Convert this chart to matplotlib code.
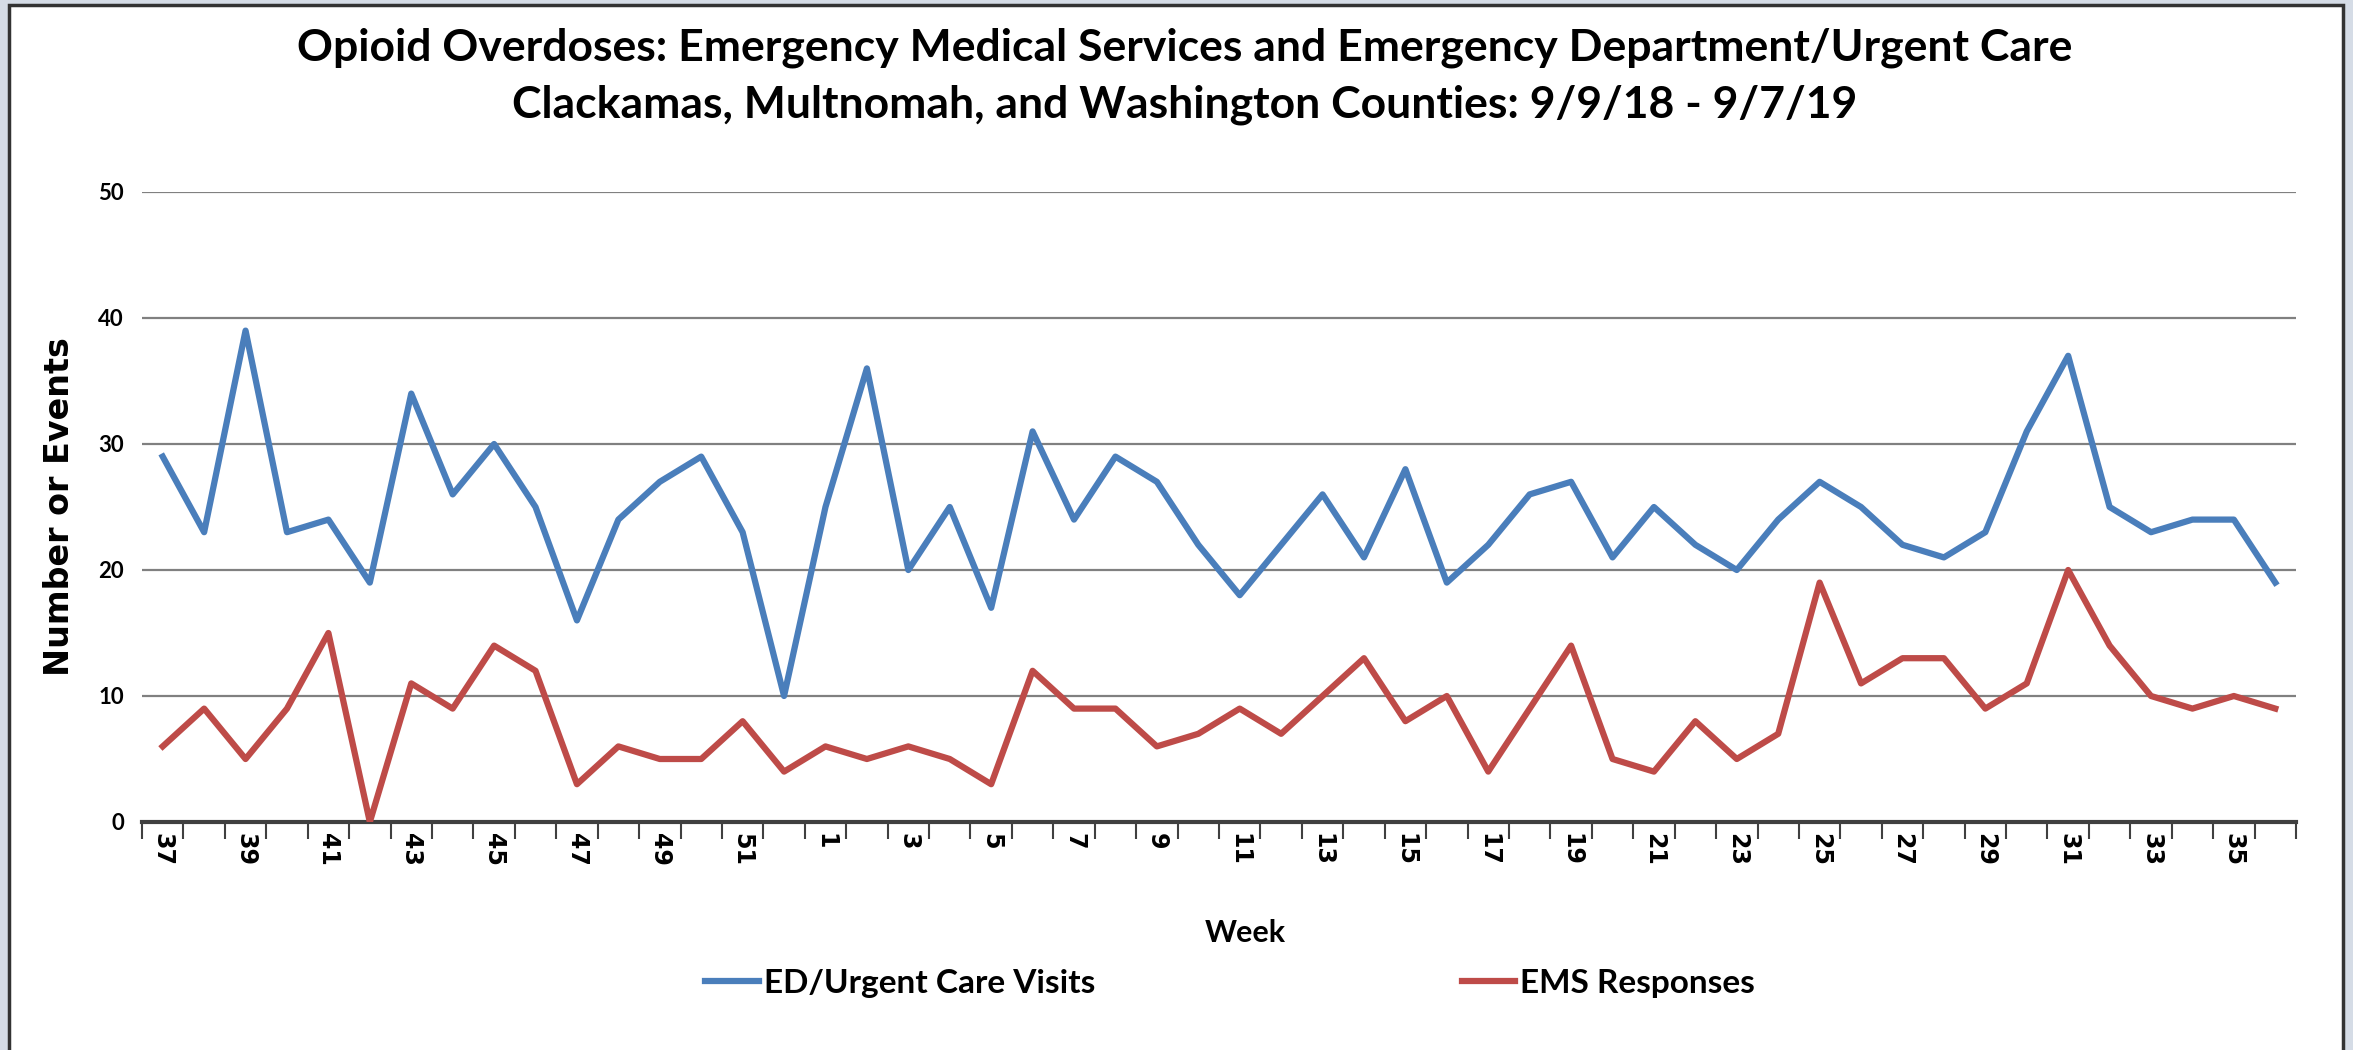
import numpy as np
import matplotlib.pyplot as plt
from matplotlib.patches import Rectangle

# Week numbers (9/9/18 - 9/7/19)
weeks = list(range(37, 53)) + list(range(1, 37))
ed_visits = [29, 23, 39, 23, 24, 19, 34, 26, 30, 25, 16, 24, 27, 29, 23, 10,
             25, 36, 20, 25, 17, 31, 24, 29, 27, 22, 18, 22, 26, 21, 28, 19,
             22, 26, 27, 21, 25, 22, 20, 24, 27, 25, 22, 21, 23, 31, 37, 25,
             23, 24, 24, 19]
ems_responses = [6, 9, 5, 9, 15, 0, 11, 9, 14, 12, 3, 6, 5, 5, 8, 4,
                 6, 5, 6, 5, 3, 12, 9, 9, 6, 7, 9, 7, 10, 13, 8, 10,
                 4, 9, 14, 5, 4, 8, 5, 7, 19, 11, 13, 13, 9, 11, 20, 14,
                 10, 9, 10, 9]
y_ticks = [0, 10, 20, 30, 40, 50]

W, H = 2353, 1050
fig = plt.figure(figsize=(W / 100, H / 100), dpi=100, facecolor='#D5DCE6')
# white chart panel with dark frame
fig.patches.append(Rectangle((9 / W, -0.01), (2343 - 9) / W, 1.01 - 5 / H,
                             transform=fig.transFigure, facecolor='white',
                             edgecolor='#333333', linewidth=2.5, zorder=-5))

ax = fig.add_axes([142 / W, 1 - 822 / H, (2296 - 142) / W, (822 - 192) / H])
ax.set_facecolor('none')
ax.set_zorder(2)

x = np.arange(len(weeks))
l1, = ax.plot(x, ed_visits, color='#4A7EBB', linewidth=4.5,
              label='ED/Urgent Care Visits', zorder=3)
l2, = ax.plot(x, ems_responses, color='#BE4B48', linewidth=4.5,
              label='EMS Responses', zorder=3)

ax.set_xlim(-0.5, len(weeks) - 0.5)
ax.set_ylim(0, 50)
ax.set_yticks(y_ticks)
ax.set_yticklabels([str(v) for v in y_ticks], fontfamily='Lato', fontweight='bold',
                   fontsize=16)
ax.tick_params(axis='y', length=0, pad=13)
for v in y_ticks[1:]:
    ax.axhline(v, color='#808080', linewidth=1.6, zorder=1)

ax.set_xticks(x[::2])
ax.set_xticklabels([str(w) for w in weeks[::2]], rotation=-90, fontfamily='DejaVu Sans',
                   fontweight='bold', fontsize=17)
ax.set_xticks(np.arange(-0.5, len(weeks), 1), minor=True)
ax.tick_params(axis='x', which='major', length=0, pad=8)
ax.tick_params(axis='x', which='minor', length=12, width=1.5, color='#404040',
               direction='out')

for s in ['top', 'right', 'left']:
    ax.spines[s].set_visible(False)
ax.spines['bottom'].set_color('#404040')
ax.spines['bottom'].set_linewidth(3)

ax.set_ylabel('Number or Events', fontfamily='DejaVu Sans', fontweight='bold',
              fontsize=24, labelpad=16)

fig.text(1245 / W, 1 - 933 / H, 'Week', ha='center', va='center',
         fontfamily='Lato', fontweight='bold', fontsize=22)

fig.text(1185 / W, 1 - 48 / H,
         'Opioid Overdoses: Emergency Medical Services and Emergency Department/Urgent Care',
         ha='center', va='center', fontfamily='Lato', fontweight='bold', fontsize=32)
fig.text(1185 / W, 1 - 105 / H,
         'Clackamas, Multnomah, and Washington Counties: 9/9/18 - 9/7/19',
         ha='center', va='center', fontfamily='Lato', fontweight='bold', fontsize=32)

fig.legend([l1, l2], [l1.get_label(), l2.get_label()],
           loc='center', bbox_to_anchor=(1230 / W, 1 - 983 / H), ncol=2,
           frameon=False, prop={'family': 'Lato', 'weight': 'bold', 'size': 24},
           handlelength=1.6, handletextpad=0.15, columnspacing=11)

fig.savefig('out.png', dpi=100, facecolor=fig.get_facecolor())
